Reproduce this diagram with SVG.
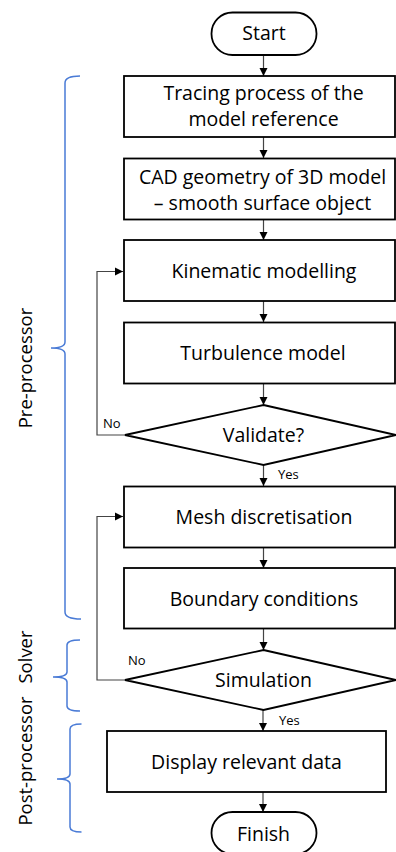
<svg xmlns="http://www.w3.org/2000/svg" width="396" height="852" viewBox="0 0 396 852">
<defs>
<marker id="ah" markerWidth="10" markerHeight="10" refX="9" refY="5" orient="auto" markerUnits="userSpaceOnUse">
<path d="M1,1 L9,5 L1,9 Z" fill="#000"/>
</marker>
<style>
.box{fill:#fff;stroke:#000;stroke-width:1.8}
.t{font-family:"Open Sans","Liberation Sans",sans-serif;font-size:19.5px;fill:#000;text-anchor:middle}
.s{font-family:"Open Sans","Liberation Sans",sans-serif;font-size:13px;fill:#000}
.c{fill:none;stroke:#444;stroke-width:1.2}
.br{fill:none;stroke:#4a7bd6;stroke-width:1.5}
.lab{font-family:"Open Sans","Liberation Sans",sans-serif;font-size:18.5px;fill:#000;text-anchor:middle}
</style>
</defs>
<rect width="396" height="852" fill="#fff"/>
<g id="connectors">
<line class="c" x1="263.5" y1="55" x2="263.5" y2="76" marker-end="url(#ah)"/>
<line class="c" x1="263.5" y1="137" x2="263.5" y2="158" marker-end="url(#ah)"/>
<line class="c" x1="263.5" y1="219" x2="263.5" y2="240" marker-end="url(#ah)"/>
<line class="c" x1="263.5" y1="301" x2="263.5" y2="322" marker-end="url(#ah)"/>
<line class="c" x1="263.5" y1="383" x2="263.5" y2="405" marker-end="url(#ah)"/>
<line class="c" x1="263.5" y1="465" x2="263.5" y2="486" marker-end="url(#ah)"/>
<line class="c" x1="263.5" y1="547" x2="263.5" y2="568" marker-end="url(#ah)"/>
<line class="c" x1="263.5" y1="628" x2="263.5" y2="650" marker-end="url(#ah)"/>
<line class="c" x1="263" y1="710" x2="263" y2="731" marker-end="url(#ah)"/>
<line class="c" x1="263" y1="792" x2="263" y2="812" marker-end="url(#ah)"/>
<polyline class="c" points="125,435 97,435 97,271.5 123,271.5" marker-end="url(#ah)"/>
<polyline class="c" points="125,680 97,680 97,516.5 123,516.5" marker-end="url(#ah)"/>
<text class="s" x="103" y="428">No</text>
<text class="s" x="278" y="479">Yes</text>
<text class="s" x="128" y="665">No</text>
<text class="s" x="279" y="725">Yes</text>
</g>
<g id="start">
<rect class="box" x="211.5" y="12.5" width="105" height="42.5" rx="21" ry="21"/>
<text class="t" x="264" y="40">Start</text>
</g>
<g id="tracing">
<rect class="box" x="124" y="76" width="271" height="61"/>
<text class="t" x="263.5" y="100">Tracing process of the</text>
<text class="t" x="263.5" y="126">model reference</text>
</g>
<g id="cad">
<rect class="box" x="124" y="158.5" width="271" height="61"/>
<text class="t" x="262.5" y="184">CAD geometry of 3D model</text>
<text class="t" x="262.5" y="210">– smooth surface object</text>
</g>
<g id="kinematic">
<rect class="box" x="124" y="240" width="271" height="61"/>
<text class="t" x="264" y="278">Kinematic modelling</text>
</g>
<g id="turbulence">
<rect class="box" x="124" y="322.5" width="271" height="61"/>
<text class="t" x="263" y="360">Turbulence model</text>
</g>
<g id="validate">
<polygon class="box" points="263.5,405 396,435 263.5,465 125,435"/>
<text class="t" x="263.5" y="442">Validate?</text>
</g>
<g id="mesh">
<rect class="box" x="124" y="486.5" width="271" height="61"/>
<text class="t" x="264" y="524">Mesh discretisation</text>
</g>
<g id="boundary">
<rect class="box" x="124" y="568" width="271" height="60.5"/>
<text class="t" x="264" y="606">Boundary conditions</text>
</g>
<g id="simulation">
<polygon class="box" points="263.5,650 396,680 263.5,710 125,680"/>
<text class="t" x="263.5" y="687">Simulation</text>
</g>
<g id="display">
<rect class="box" x="107" y="731" width="279" height="61"/>
<text class="t" x="246.5" y="769">Display relevant data</text>
</g>
<g id="finish">
<rect class="box" x="211.5" y="812" width="105" height="42" rx="21" ry="21"/>
<text class="t" x="263.5" y="841">Finish</text>
</g>
<g id="pre-processor">
<path class="br" d="M80,76 Q65,76 65,83 L65,342 Q65,348 51,348 Q65,348 65,354 L65,612 Q65,619 81,619"/>
<text class="lab" transform="translate(32,368) rotate(-90)">Pre-processor</text>
</g>
<g id="solver">
<path class="br" d="M80,640 Q67,640 67,645 L67,672 Q67,677 53,677 Q67,677 67,682 L67,706 Q67,711 80,711"/>
<text class="lab" transform="translate(32,657) rotate(-90)">Solver</text>
</g>
<g id="post-processor">
<path class="br" d="M81.5,724 Q70,724 70,729 L70,774 Q70,779 57,779 Q70,779 70,784 L70,827 Q70,832 81.5,832"/>
<text class="lab" transform="translate(32,761) rotate(-90)">Post-processor</text>
</g>
</svg>
